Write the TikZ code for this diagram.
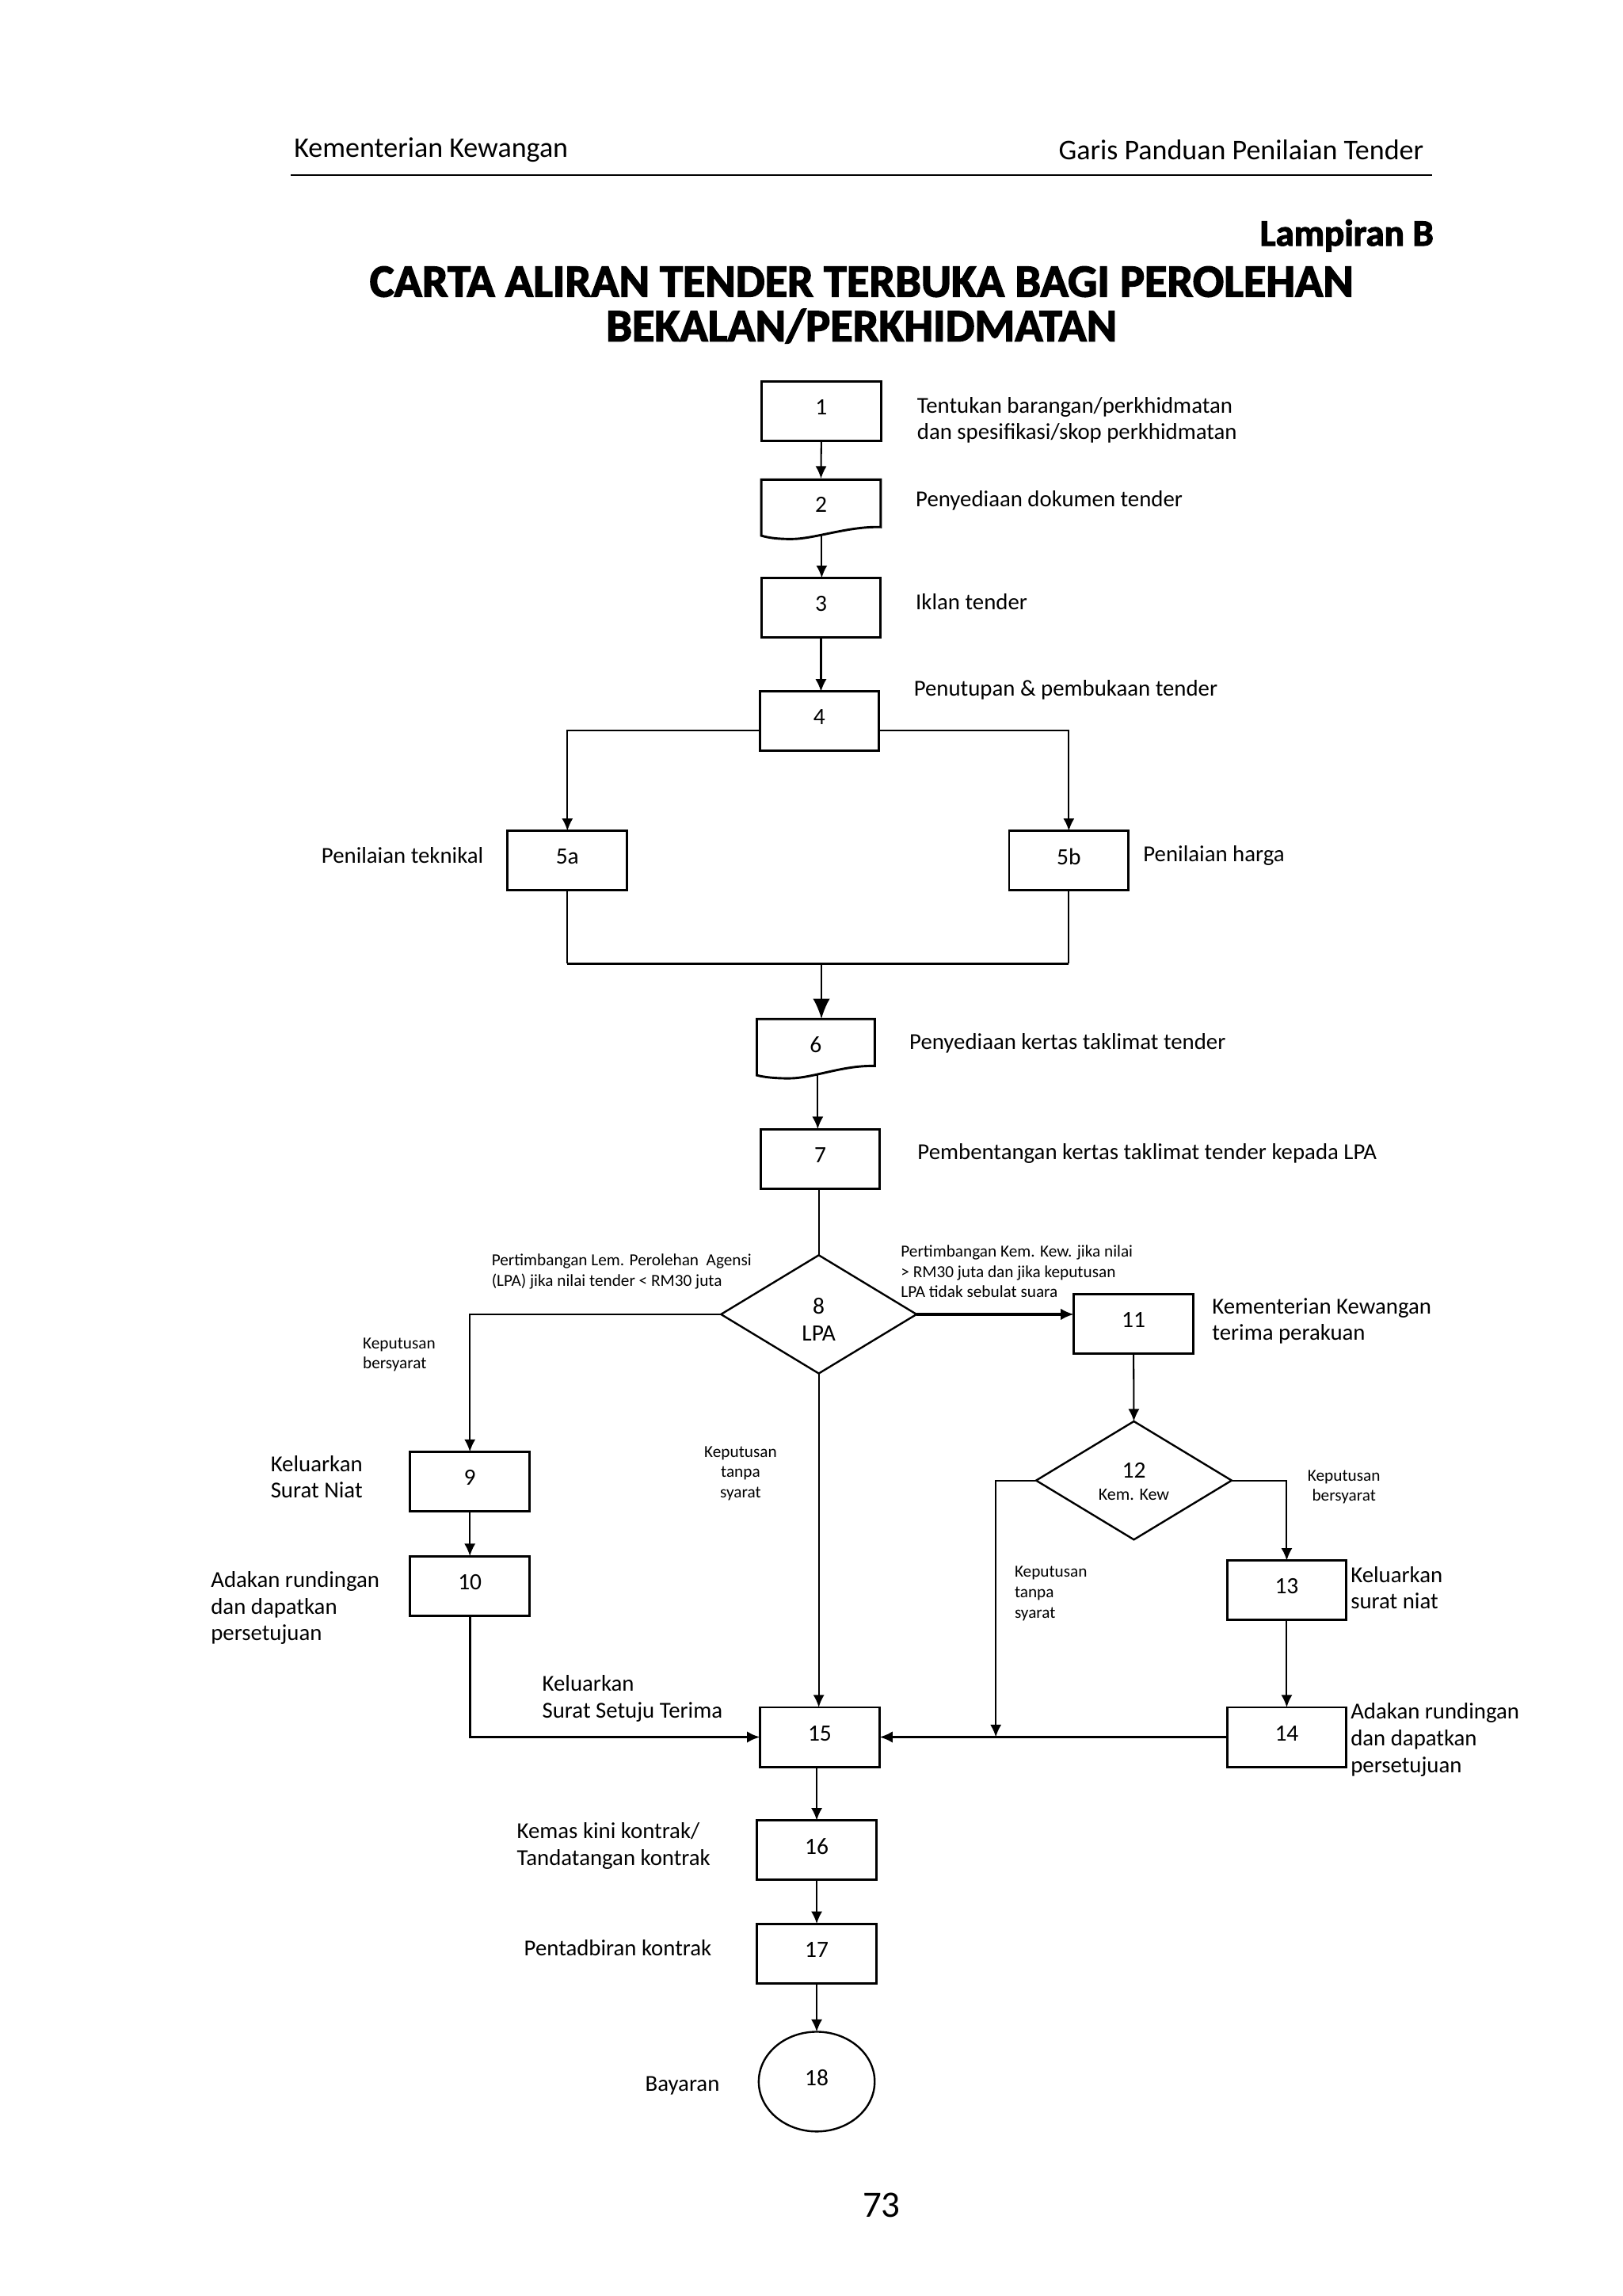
\documentclass[tikz,border=0pt]{standalone}
\usepackage{fontspec}
\setmainfont{Carlito}[BoldFeatures={FakeBold=2.5}]
\usetikzlibrary{arrows.meta,shapes.geometric,calc}
\begin{document}
\begin{tikzpicture}[x=0.019091cm,y=-0.019091cm,
  every node/.style={inner sep=0pt, outer sep=0pt},
  box/.style={draw, line width=0.85pt, minimum width=1.545cm, minimum height=0.77cm, font=\fontsize{8.6}{9.8}\selectfont, text depth=0.1cm},
  ghost/.style={minimum width=1.545cm, minimum height=0.77cm, font=\fontsize{8.6}{9.8}\selectfont, text depth=0.1cm},
  docline/.style={line width=0.85pt},
  dec/.style={draw, diamond, line width=0.7pt, minimum width=2.53cm, minimum height=1.53cm},
  endc/.style={draw, ellipse, line width=0.7pt, minimum width=1.5cm, minimum height=1.29cm, font=\fontsize{8.6}{9.8}\selectfont, text depth=0.1cm},
  lbl/.style={font=\fontsize{8.4}{9.8}\selectfont, align=left},
  sml/.style={font=\fontsize{6.2}{7.5}\selectfont, align=left},
  smlc/.style={font=\fontsize{6.2}{7.5}\selectfont, align=center},
  ln/.style={line width=0.6pt},
  thk/.style={line width=0.95pt},
  arr/.style={ln, -{Latex[length=1.6mm,width=1.45mm]}},
  tarr/.style={thk, -{Latex[length=1.7mm,width=1.5mm]}},
  bigarr/.style={ln, -{Latex[length=2.6mm,width=2.2mm]}},
]
\fill[white] (0,0) rectangle (1100,1556);
\useasboundingbox (0,0) rectangle (1100,1556);

% header
\node[anchor=west, font=\fontsize{10.5}{12}\selectfont] (hl) at (199.4,101.8) {Kementerian Kewangan};
\node[anchor=east, font=\fontsize{10.5}{12}\selectfont] (hr) at (965,101.8) {Garis Panduan Penilaian Tender};
\draw[line width=0.8pt] (197.3,118.6) -- (971,118.6);
\node[anchor=east, font=\bfseries\fontsize{13.7}{15}\selectfont] (lamp) at (971.7,159.6) {Lampiran B};
\node[align=center, font=\bfseries\fontsize{17}{16.4}\selectfont] (title) at (584,206.6) {CARTA ALIRAN TENDER TERBUKA BAGI PEROLEHAN\\BEKALAN/PERKHIDMATAN};

% boxes column
\node[box] (b1) at (556.7,278.7) {1};
\node[lbl, anchor=west] (t1) at (621.7,284.7) {Tentukan barangan/perkhidmatan\\dan spesifikasi/skop perkhidmatan};

\node[ghost] (b2) at (556.5,344.5) {2};
\draw[docline] (516,363) -- (516,325) -- (597,325) -- (597,357.2) .. controls (575,356.5) and (552,365.3) .. (536.4,365.3) .. controls (527,365.3) and (521,364.5) .. cycle;
\coordinate (c2) at (557,361.8);
\node[lbl, anchor=west] (t2) at (620.8,339.3) {Penyediaan dokumen tender};

\node[box] (b3) at (556.5,411.8) {3};
\node[lbl, anchor=west] (t3) at (620.8,408) {Iklan tender};

\node[box] (b4) at (555.4,488.8) {4};
\node[lbl, anchor=west] (t4) at (619.5,467.6) {Penutupan \& pembukaan tender};

\node[box] (b5a) at (384.6,583.2) {5a};
\node[lbl, anchor=east] (t5a) at (327.7,579.6) {Penilaian teknikal};
\node[box] (b5b) at (724.5,583.2) {5b};
\node[lbl, anchor=west] (t5b) at (775,579.6) {Penilaian harga};
\coordinate (j56) at (556.8,653);

\node[ghost] (b6) at (553,710.6) {6};
\draw[docline] (513,728.7) -- (513,690.6) -- (593,690.6) -- (593,722.4) .. controls (571,721.8) and (551,730.8) .. (534.8,730.8) .. controls (525,730.8) and (518,730) .. cycle;
\coordinate (c6) at (554.3,727.3);
\node[lbl, anchor=west] (t6) at (616.5,707.2) {Penyediaan kertas taklimat tender};

\node[box] (b7) at (556,785.3) {7};
\node[lbl, anchor=west] (t7) at (622,782) {Pembentangan kertas taklimat tender kepada LPA};

% decision 8
\node[dec] (d8) at (555,890.7) {};
\node[align=center, font=\fontsize{8.6}{9.9}\selectfont] (t8) at (555,894) {8\\LPA};
\node[sml, anchor=west] (t8l) at (333.3,861.8) {Pertimbangan Lem. Perolehan\ \ Agensi\\(LPA) jika nilai tender < RM30 juta};
\node[sml, anchor=west] (t8r) at (610.7,861.6) {Pertimbangan Kem. Kew. jika nilai\\> RM30 juta dan jika keputusan\\LPA tidak sebulat suara};
\node[sml, anchor=west] (t8b) at (246,918) {Keputusan\\bersyarat};
\node[smlc] (t8c) at (502,998.6) {Keputusan\\tanpa\\syarat};

% left branch
\node[box] (b9) at (318.5,1004) {9};
\node[lbl, anchor=west] (t9) at (183.5,1000.8) {Keluarkan\\Surat Niat};
\node[box] (b10) at (318.5,1074.7) {10};
\node[lbl, anchor=west] (t10) at (143,1089.8) {Adakan rundingan\\dan dapatkan\\persetujuan};

% right branch
\node[box] (b11) at (768.4,897.3) {11};
\node[lbl, anchor=west] (t11) at (821.7,895.2) {Kementerian Kewangan\\terima perakuan};
\node[dec] (d12) at (768.6,1003.3) {};
\node[font=\fontsize{8.6}{9.8}\selectfont] (t12a) at (768.6,996.4) {12};
\node[font=\fontsize{6.4}{7.5}\selectfont] (t12b) at (768.6,1013) {Kem. Kew};
\node[smlc] (t12r) at (911,1007.8) {Keputusan\\bersyarat};
\node[sml, anchor=west] (t12l) at (687.8,1079.9) {Keputusan\\tanpa\\syarat};
\node[box] (b13) at (872.2,1077.7) {13};
\node[lbl, anchor=west] (t13) at (915.6,1076) {Keluarkan\\surat niat};
\node[box] (b14) at (872.2,1177.2) {14};
\node[lbl, anchor=west] (t14) at (915.6,1179) {Adakan rundingan\\dan dapatkan\\persetujuan};
\coordinate (m15) at (675,1177.2);

% bottom column
\node[box] (b15) at (555.7,1177.2) {15};
\node[lbl, anchor=west] (t15) at (367.6,1151.2) {Keluarkan\\Surat Setuju Terima};
\node[box] (b16) at (553.6,1253.8) {16};
\node[lbl, anchor=west] (t16) at (350.4,1251) {Kemas kini kontrak/\\Tandatangan kontrak};
\node[box] (b17) at (553.6,1323.9) {17};
\node[lbl, anchor=east] (t17) at (482.3,1320) {Pentadbiran kontrak};
\node[endc] (b18) at (553.6,1410.7) {18};
\node[lbl, anchor=west] (t18) at (437.4,1413.3) {Bayaran};

\node[font=\fontsize{13.7}{15}\selectfont] (pg) at (597.5,1494.5) {73};

% connectors
\draw[arr] (b1.south) -- (b2.north);
\draw[arr] (c2) -- (c2 |- b3.north);
\draw[arr] (b3.south) -- (b3.south |- b4.north);
\draw[arr] ($(b4.west)+(0,6.2)$) -| (b5a.north);
\draw[arr] ($(b4.east)+(0,6.2)$) -| (b5b.north);
\draw[ln] (b5a.south) -- (b5a.south |- j56);
\draw[ln] (b5b.south) -- (b5b.south |- j56);
\draw[thk] (b5a.south |- j56) -- (b5b.south |- j56);
\draw[bigarr] (j56) -- (j56 |- b6.north);
\draw[arr] (c6) -- (c6 |- b7.north);
\draw[ln] (d8.north |- b7.south) -- (d8.north);
\draw[arr] (d8.west) -| (b9.north);
\draw[tarr] (d8.east) -- (d8.east -| b11.west);
\draw[arr] (d8.south) -- (d8.south |- b15.north);
\draw[arr] (b9.south) -- (b10.north);
\draw[tarr] (b10.south) |- (b15.west);
\draw[arr] (b11.south) -- (d12.north);
\draw[arr] (d12.west) -| (m15);
\draw[arr] (d12.east) -| (b13.north);
\draw[arr] (b13.south) -- (b14.north);
\draw[tarr] (b14.west) -- (b15.east);
\draw[arr] (b16.north |- b15.south) -- (b16.north);
\draw[arr] (b16.south) -- (b17.north);
\draw[arr] (b17.south) -- (b18.north);
\end{tikzpicture}
\end{document}
